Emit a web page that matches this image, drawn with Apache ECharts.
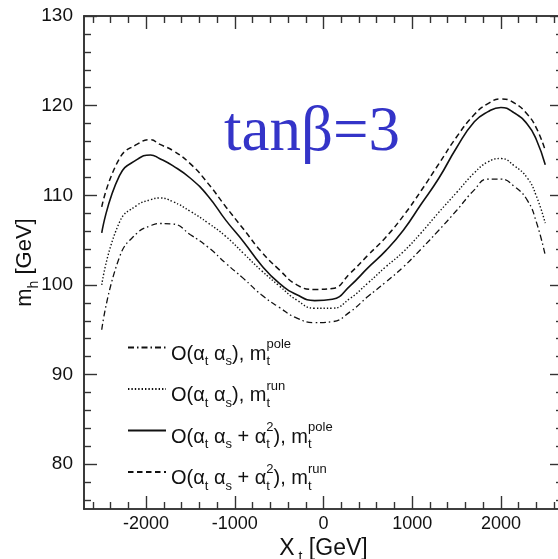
<!DOCTYPE html>
<html>
<head>
<meta charset="utf-8">
<script src="https://cdn.jsdelivr.net/npm/echarts@6/dist/echarts.min.js"></script>
<style>
html,body{margin:0;padding:0;background:#fff;overflow:hidden;width:558px;height:559px;}
#c{width:580px;height:559px;}
</style>
</head>
<body>
<div id="c"></div>
<script>
// X_t values [GeV]
const xt = [-2500,-2300,-2100,-1950,-1850,-1700,-1500,-1300,-1100,-900,-700,-500,-300,-100,100,300,500,700,900,1100,1300,1500,1700,1850,2000,2150,2300,2400,2500];
// m_h [GeV]
const poleOneLoop = [95.0,103.1,105.8,106.6,106.85,106.8,105.6,104.2,102.4,100.7,98.9,97.5,96.3,95.8,95.9,97.0,98.7,100.3,102.0,104.0,106.1,108.3,110.6,111.8,111.8,111.0,109.4,107.0,103.3];
const runOneLoop  = [100.0,107.0,108.9,109.5,109.7,109.3,108.2,106.9,105.4,103.5,101.6,99.9,98.3,97.4,97.4,98.5,100.2,102.0,103.7,105.8,108.1,110.3,112.5,113.7,114.1,113.3,111.9,109.9,106.9];
const poleTwoLoop = [105.8,112.2,114.0,114.5,114.1,113.3,111.9,109.9,107.2,104.8,102.2,100.2,98.9,98.25,98.4,99.9,101.9,103.8,106.1,109.0,111.9,115.3,118.2,119.3,119.8,119.2,117.9,116.2,113.4];
const runTwoLoop  = [108.7,114.1,115.7,116.2,115.7,115.0,113.5,111.3,108.7,106.2,103.7,101.7,100.0,99.5,99.6,101.3,103.3,105.3,107.7,110.5,113.5,116.5,119.0,120.2,120.75,120.3,119.0,117.5,115.0];

const xMajor = [-2000,-1000,0,1000,2000];
const xMinor = [-2600,-2400,-2200,-1800,-1600,-1400,-1200,-800,-600,-400,-200,200,400,600,800,1200,1400,1600,1800,2200,2400,2600];
const yMajor = [80,90,100,110,120,130];
const yMinor = [76,78,82,84,86,88,92,94,96,98,102,104,106,108,112,114,116,118,122,124,126,128];

const legendNames = ['s1','s2','s3','s4'];
const legendTexts = {
  s1: '{m|O(α}{s|t}{m| α}{s|s}{m|), m}{sz|t}{p|pole}',
  s2: '{m|O(α}{s|t}{m| α}{s|s}{m|), m}{sz|t}{p|run}',
  s3: '{m|O(α}{s|t}{m| α}{s|s}{m| + α}{sz|t}{p|2}{m|), m}{sz|t}{p|pole}',
  s4: '{m|O(α}{s|t}{m| α}{s|s}{m| + α}{sz|t}{p|2}{m|), m}{sz|t}{p|run}'
};

const F = 'Liberation Sans, Arial, Helvetica, sans-serif';
const AX = '#333';
const pairs = ys => xt.map((x,i)=>[x,ys[i]]);

function xa(pos, vals, len, labels){
  return {type:'value', position:pos, min:-2700, max:2700, gridIndex:0,
    axisLine:{show:true, onZero:false, lineStyle:{color:AX,width:1.6}},
    axisTick:{show:true, inside:true, length:len, customValues:vals, lineStyle:{color:AX,width:1.4}},
    axisLabel: labels ? {show:true, customValues:xMajor, formatter:v=>String(v), color:'#111', fontSize:18, fontFamily:F, margin:6} : {show:false},
    splitLine:{show:false}};
}
function ya(pos, vals, len, labels){
  return {type:'value', position:pos, min:75, max:130, gridIndex:0,
    axisLine:{show:true, onZero:false, lineStyle:{color:AX,width:1.6}},
    axisTick:{show:true, inside:true, length:len, customValues:vals, lineStyle:{color:AX,width:1.4}},
    axisLabel: labels ? {show:true, customValues:yMajor, formatter:v=>String(v), color:'#111', fontSize:19, fontFamily:F, margin:11} : {show:false},
    splitLine:{show:false}};
}

const xAxes = [xa('bottom', xMajor, 13, true), xa('top', xMajor, 13, false), xa('bottom', xMinor, 7, false), xa('top', xMinor, 7, false)];
xAxes[0].name = '{b|X}{s| t}{b| [GeV]}';
xAxes[0].nameLocation = 'middle';
xAxes[0].nameGap = 28;
xAxes[0].nameMoveOverlap = false;
xAxes[0].nameTextStyle = {rich:{
  b:{fontSize:23, fontFamily:F, color:'#111', lineHeight:24, verticalAlign:'top', padding:[0,0,0,0]},
  s:{fontSize:14, fontFamily:F, color:'#111', lineHeight:14, verticalAlign:'top', padding:[13,0,0,0]}
}};
const yAxes = [ya('left', yMajor, 13, true), ya('right', yMajor, 13, false), ya('left', yMinor, 7, false), ya('right', yMinor, 7, false)];
yAxes[0].name = '{b|m}{s|h}{b| [GeV]}';
yAxes[0].nameLocation = 'middle';
yAxes[0].nameGap = 47;
yAxes[0].nameMoveOverlap = false;
yAxes[0].nameRotate = 90;
yAxes[0].nameTextStyle = {rich:{
  b:{fontSize:22, fontFamily:F, color:'#111', lineHeight:23, verticalAlign:'top', padding:[0,0,0,0]},
  s:{fontSize:14, fontFamily:F, color:'#111', lineHeight:14, verticalAlign:'top', padding:[13,0,0,0]}
}};

const lineColor = '#111';
const option = {
  animation:false,
  backgroundColor:'#fff',
  grid:{left:84, top:16, width:479, height:493, containLabel:false, outerBoundsMode:'none'},
  title:{text:'tanβ=3', left:219, top:97, textStyle:{fontFamily:'Liberation Serif, Times New Roman, serif', fontSize:63, fontWeight:'normal', color:'#3434c8'}},
  xAxis:xAxes,
  yAxis:yAxes,
  legend:{
    orient:'vertical', left:122, top:332, itemWidth:38, itemHeight:12, itemGap:10.5,
    data:legendNames, selectedMode:false,
    itemStyle:{opacity:0},
    formatter: n => legendTexts[n],
    textStyle:{rich:{
      m:{fontSize:20, fontFamily:F, color:'#111', lineHeight:21, verticalAlign:'top', padding:[7,0,0,0]},
      s:{fontSize:13, fontFamily:F, color:'#111', lineHeight:13, verticalAlign:'top', padding:[18,0,0,0]},
      sz:{fontSize:13, fontFamily:F, color:'#111', lineHeight:13, verticalAlign:'top', padding:[18,0,0,0], width:0},
      p:{fontSize:13, fontFamily:F, color:'#111', lineHeight:13, verticalAlign:'top', padding:[1,0,0,0]}
    }}
  },
  series:[
    {name:'s1', type:'line', data:pairs(poleOneLoop), showSymbol:false, symbol:'none', smooth:true,
      lineStyle:{color:lineColor, width:1.3, type:[6,3,1.5,3]}, itemStyle:{color:lineColor}},
    {name:'s2', type:'line', data:pairs(runOneLoop), showSymbol:false, symbol:'none', smooth:true,
      lineStyle:{color:lineColor, width:1.4, type:[1.4,2]}, itemStyle:{color:lineColor}},
    {name:'s3', type:'line', data:pairs(poleTwoLoop), showSymbol:false, symbol:'none', smooth:true,
      lineStyle:{color:lineColor, width:1.6, type:'solid'}, itemStyle:{color:lineColor}},
    {name:'s4', type:'line', data:pairs(runTwoLoop), showSymbol:false, symbol:'none', smooth:true,
      lineStyle:{color:lineColor, width:1.5, type:[5.5,3.5]}, itemStyle:{color:lineColor}}
  ]
};
const chart = echarts.init(document.getElementById('c'), null, {renderer:'canvas'});
chart.setOption(option);
</script>
</body>
</html>
